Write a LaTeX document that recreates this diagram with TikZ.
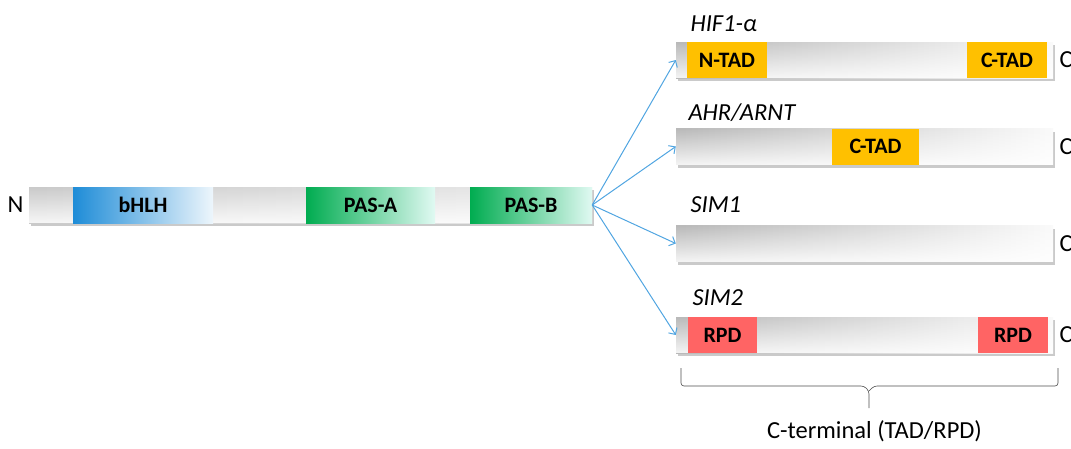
\documentclass[tikz,border=0pt]{standalone}
\usepackage{fontspec}
\setmainfont{Carlito}
\usepackage{tikz}
\usetikzlibrary{arrows.meta,shadows,fadings}
\definecolor{bhlhblue}{RGB}{30,140,215}
\definecolor{pasgreen}{RGB}{0,172,80}
\definecolor{pasteal}{RGB}{0,208,150}
\definecolor{tadorange}{RGB}{255,192,0}
\definecolor{rpdred}{RGB}{255,100,100}
\definecolor{arrowblue}{RGB}{80,165,225}
\newcommand{\lbl}       {\fontsize{22}{26}\selectfont\bfseries}
\newcommand{\nme}       {\fontsize{24.5}{28}\selectfont\itshape}
\newcommand{\trm}       {\fontsize{24.5}{28}\selectfont}

\begin{document}
\begin{tikzpicture}[x=1pt,y=-1pt,>={Straight Barb[length=5pt,width=10pt]},
    bar/.style={rectangle,inner sep=0pt,minimum height=36pt,
      left color=gray!55,right color=gray!4,
      drop shadow={shadow xshift=2pt,shadow yshift=-3pt,opacity=0.35,fill=black!60},
      path picture={\fill[white,path fading=north,fill opacity=0.85]
        (path picture bounding box.south west) rectangle (path picture bounding box.north east);}},
    mainbar/.style={bar,left color=gray!42,right color=gray!15},
    seg/.style={rectangle,inner sep=0pt,minimum height=36pt,font=\lbl},
    bhlhseg/.style={seg,left color=bhlhblue,right color=white!92!bhlhblue},
    passeg/.style={seg,left color=pasgreen,middle color=pasteal,right color=white!88!pasteal},
    tadseg/.style={seg,fill=tadorange},
    rpdseg/.style={seg,fill=rpdred},
    fork/.style={arrowblue,line width=1pt,->},
    brace line/.style={black!70,semithick,rounded corners=3pt}]
     \useasboundingbox (0,0) rectangle (1071,448);
     % full-length protein
     \node[mainbar,minimum width=563pt] (main) at (310.5,205) {};
     \node[bhlhseg,minimum width=140pt] (bhlh) at (143,205) {bHLH};
     \node[passeg,minimum width=129pt] (pasa) at (370.5,205) {PAS-A};
     \node[passeg,minimum width=122pt] (pasb) at (531,205) {PAS-B};
     \draw(27,205) node[anchor=east,font=\trm] (nend) {N};
     % C-terminal variants
     \node[bar,minimum width=377pt] (hif)  at (864.5,60)    {};
     \node[bar,minimum width=377pt] (ahr)  at (864.5,146.5) {};
     \node[bar,minimum width=377pt] (sima) at (864.5,243.5) {};
     \node[bar,minimum width=377pt] (simb) at (864.5,335)   {};
     \node[tadseg,minimum width=80pt] (ntad)  at (727,60)     {N-TAD};
     \node[tadseg,minimum width=80pt] (ctadh) at (1007,60)    {C-TAD};
     \node[tadseg,minimum width=87pt] (ctada) at (875.5,146.5) {C-TAD};
     \node[rpdseg,minimum width=69pt] (rpda)  at (722.5,335)  {RPD};
     \node[rpdseg,minimum width=70pt] (rpdb)  at (1013,335)   {RPD};
     \draw(687,31)  node[anchor=base west,font=\nme] (hifname)  {HIF1-α};
     \draw(685,120) node[anchor=base west,font=\nme] (ahrname)  {AHR/ARNT};
     \draw(687,212) node[anchor=base west,font=\nme] (simaname) {SIM1};
     \draw(689,305) node[anchor=base west,font=\nme] (simbname) {SIM2};
     \draw(1056,60)    node[anchor=west,font=\trm] (hifc)  {C};
     \draw(1056,146.5) node[anchor=west,font=\trm] (ahrc)  {C};
     \draw(1056,243.5) node[anchor=west,font=\trm] (simac) {C};
     \draw(1056,335)   node[anchor=west,font=\trm] (simbc) {C};
     % arrows
     \draw[fork] (main.east) -- (hif.west);
     \draw[fork] (main.east) -- (ahr.west);
     \draw[fork] (main.east) -- (sima.west);
     \draw[fork] (main.east) -- (simb.west);
     % brace
     \draw[brace line] (681,368) -- (681,386) -- (864,386) -- (869,391) -- (869,408);
     \draw[brace line] (1058,368) -- (1058,386) -- (874,386) -- (869,391);
     \draw(874.5,438) node[anchor=base,font=\trm] (cterm) {C-terminal (TAD/RPD)};
    \end{tikzpicture}
\end{document}
